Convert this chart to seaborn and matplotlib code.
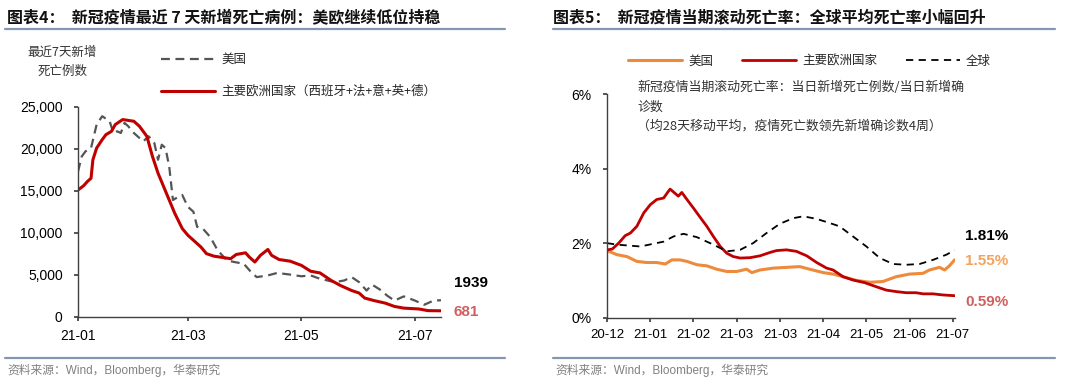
import numpy as np
import pandas as pd
import matplotlib.pyplot as plt
import matplotlib.ticker as mticker
import matplotlib.dates as mdates
from matplotlib.lines import Line2D
import seaborn as sns

# ── Data: left chart (7-day new deaths), day offsets from 2021-01-01 ─────────
eu_days = [0, 3, 5, 7, 8, 10, 13, 15, 18, 20, 24, 27, 30, 33, 37, 40, 43, 46, 49,
           52, 56, 59, 62, 66, 69, 73, 76, 82, 85, 90, 92, 95, 98, 102, 104, 108,
           114, 120, 125, 130, 136, 141, 147, 151, 154, 159, 165, 170, 175, 183,
           188, 195]
eu_deaths = [15100, 15600, 16100, 16500, 18700, 20100, 21100, 21700, 22100, 22900,
             23500, 23400, 23300, 22700, 21500, 19100, 17100, 15500, 13900, 12300,
             10500, 9700, 9100, 8300, 7500, 7200, 7100, 6900, 7400, 7600, 7100, 6500,
             7300, 8000, 7300, 6800, 6600, 6100, 5400, 5200, 4300, 3700, 3100, 2800,
             2200, 1900, 1600, 1200, 1000, 900, 700, 681]
us_days = [0, 2, 4, 7, 10, 13, 17, 19, 21, 23, 25, 27, 30, 35, 38, 41, 43, 45, 47,
           49, 51, 54, 56, 59, 62, 64, 67, 71, 75, 80, 84, 89, 93, 96, 102, 107, 114,
           120, 125, 130, 138, 143, 147, 151, 155, 158, 163, 166, 170, 175, 181,
           186, 191, 195]
us_deaths = [17300, 19100, 19700, 20100, 22900, 23900, 23300, 21900, 22100, 21900,
             23100, 22700, 21900, 20900, 21500, 20700, 18700, 20500, 20100, 17900,
             13900, 14300, 14500, 13100, 12500, 10700, 10500, 9500, 7900, 6700, 6500,
             6300, 5300, 4700, 4900, 5200, 5000, 4800, 4900, 4500, 4100, 4300, 4700,
             4100, 3100, 3800, 3100, 2500, 1900, 2400, 1900, 1400, 1900, 1939]

# ── Data: right chart (rolling fatality rate, %), x in tick-interval units ────
rate_ticks = ["20-12", "21-01", "21-02", "21-03", "21-03", "21-04", "21-05", "21-06", "21-07"]
eu_t = [0, 0.12, 0.27, 0.42, 0.54, 0.69, 0.85, 1.0, 1.15, 1.31, 1.42, 1.46, 1.58,
        1.65, 1.73, 1.85, 2.0, 2.15, 2.31, 2.46, 2.62, 2.77, 2.92, 3.08, 3.31, 3.54,
        3.77, 3.92, 4.15, 4.38, 4.62, 4.85, 5.08, 5.23, 5.46, 5.69, 5.96, 6.23, 6.46,
        6.69, 6.92, 7.15, 7.31, 7.54, 7.77, 8.04]
eu_rate = [1.82, 1.84, 2.0, 2.2, 2.27, 2.45, 2.81, 3.03, 3.17, 3.21, 3.39, 3.45, 3.33,
           3.26, 3.36, 3.17, 2.94, 2.70, 2.45, 2.18, 1.91, 1.73, 1.64, 1.60, 1.61, 1.66,
           1.75, 1.80, 1.82, 1.78, 1.66, 1.48, 1.33, 1.28, 1.10, 1.01, 0.94, 0.83, 0.74,
           0.70, 0.67, 0.67, 0.64, 0.64, 0.61, 0.59]
us_t = [0, 0.23, 0.46, 0.69, 0.92, 1.15, 1.35, 1.5, 1.69, 1.85, 2.08, 2.31, 2.54,
        2.77, 3.0, 3.23, 3.35, 3.54, 3.85, 4.15, 4.46, 4.69, 5.0, 5.23, 5.46, 5.77,
        6.08, 6.38, 6.69, 7.0, 7.31, 7.46, 7.69, 7.81, 7.92, 8.04]
us_rate = [1.80, 1.69, 1.64, 1.51, 1.48, 1.48, 1.44, 1.55, 1.55, 1.51, 1.42, 1.39,
           1.30, 1.24, 1.24, 1.30, 1.21, 1.28, 1.33, 1.35, 1.37, 1.30, 1.21, 1.17,
           1.10, 1.00, 0.95, 0.97, 1.10, 1.17, 1.19, 1.28, 1.35, 1.28, 1.39, 1.55]
gl_t = [0, 0.23, 0.77, 1.31, 1.54, 1.77, 2.08, 2.46, 2.77, 3.08, 3.38, 3.69, 4.0,
        4.31, 4.54, 4.85, 5.15, 5.38, 5.69, 6.0, 6.31, 6.62, 6.92, 7.23, 7.54, 7.85,
        8.04]
gl_rate = [2.0, 1.96, 1.91, 2.04, 2.18, 2.25, 2.16, 1.96, 1.78, 1.82, 2.0, 2.27, 2.52,
           2.67, 2.72, 2.65, 2.54, 2.45, 2.18, 1.91, 1.60, 1.44, 1.42, 1.44, 1.55, 1.69,
           1.81]

# ── Style ─────────────────────────────────────────────────────────────────────
RED    = "#C00000"
ORANGE = "#EE8A3C"
RULE   = "#8497B0"
TXT    = "#333333"

sns.set_theme(style="white")
plt.rcParams["font.family"] = ["Liberation Sans", "Noto Sans CJK SC", "DejaVu Sans"]
plt.rcParams.update({
    "axes.spines.top": False,
    "axes.spines.right": False,
    "axes.edgecolor": "#404040",
    "axes.linewidth": 1.0,
    "xtick.bottom": True,
    "ytick.left": True,
    "xtick.major.size": 3,
    "ytick.major.size": 3,
    "xtick.color": "#404040",
    "ytick.color": "#404040",
    "xtick.labelcolor": "black",
    "ytick.labelcolor": "black",
})
CJK = ["Noto Sans CJK SC", "DejaVu Sans"]

W, H = 1080, 382
fig = plt.figure(figsize=(W / 100, H / 100), dpi=100)


def px_axes(x0, y_top, x1, y_bot):
    return fig.add_axes([x0 / W, 1 - y_bot / H, (x1 - x0) / W, (y_bot - y_top) / H])


def rule(x0, x1, y):
    fig.add_artist(Line2D([x0 / W, x1 / W], [1 - y / H, 1 - y / H],
                          color=RULE, lw=1.6, transform=fig.transFigure))


# Titles, rules and footers
fig.text(7 / W, 1 - 17 / H, "图表4：  新冠疫情最近 7 天新增死亡病例：美欧继续低位持稳",
         fontsize=11.5, fontweight="bold", family=CJK, va="center", color="#111111")
fig.text(553 / W, 1 - 17 / H, "图表5：  新冠疫情当期滚动死亡率：全球平均死亡率小幅回升",
         fontsize=11.5, fontweight="bold", family=CJK, va="center", color="#111111")
rule(5, 505, 29)
rule(553, 1055, 29)
rule(5, 505, 358)
rule(553, 1055, 358)
for x in (7, 555):
    fig.text(x / W, 1 - 370 / H, "资料来源：Wind，Bloomberg，华泰研究",
             fontsize=8.5, color="#808080", va="center",
             family=["Liberation Sans", "Noto Sans CJK SC"])

# ── Left chart ────────────────────────────────────────────────────────────────
start = pd.Timestamp("2021-01-01")
df_eu = pd.DataFrame({"date": start + pd.to_timedelta(eu_days, unit="D"), "v": eu_deaths})
df_us = pd.DataFrame({"date": start + pd.to_timedelta(us_days, unit="D"), "v": us_deaths})

ax1 = px_axes(78, 107, 441, 316.5)
sns.lineplot(data=df_us, x="date", y="v", ax=ax1, color="#555555", lw=1.6,
             linestyle=(0, (4, 2.5)), label="美国")
sns.lineplot(data=df_eu, x="date", y="v", ax=ax1, color=RED, lw=2.2,
             label="主要欧洲国家（西班牙+法+意+英+德）")
ax1.set_xlim(start, start + pd.Timedelta(days=195))
ax1.set_ylim(0, 25000)
ax1.set_yticks(range(0, 25001, 5000))
ax1.yaxis.set_major_formatter(mticker.FuncFormatter(lambda v, _: f"{v:,.0f}"))
ax1.set_xticks(pd.to_datetime(["2021-01-01", "2021-03-01", "2021-05-01", "2021-07-01"]))
ax1.xaxis.set_major_formatter(mdates.DateFormatter("%y-%m"))
ax1.set_xlabel("")
ax1.set_ylabel("")
ax1.tick_params(axis="y", labelsize=10, pad=8)
ax1.tick_params(axis="x", labelsize=10, pad=6)
ax1.legend(loc="upper left", bbox_to_anchor=(150 / W, 1 - 42 / H),
           bbox_transform=fig.transFigure, frameon=False,
           handlelength=4.3, labelspacing=1.5, handletextpad=0.5,
           prop={"family": CJK, "size": 9})
fig.text(62 / W, 1 - 62 / H, "最近7天新增\n死亡例数", fontsize=9, family=CJK,
         ha="center", va="center", color=TXT, linespacing=1.6)
ax1.text(1.035, 1939 / 25000 + 0.08, "1939", transform=ax1.transAxes,
         fontsize=11, fontweight="bold", color="black", va="center")
ax1.text(1.035, 681 / 25000 - 0.005, "681", transform=ax1.transAxes,
         fontsize=11, fontweight="bold", color="#D06060", va="center")

# ── Right chart ───────────────────────────────────────────────────────────────
df_r_us = pd.DataFrame({"t": us_t, "v": us_rate})
df_r_eu = pd.DataFrame({"t": eu_t, "v": eu_rate})
df_r_gl = pd.DataFrame({"t": gl_t, "v": gl_rate})

ax2 = px_axes(607, 94, 955, 317.7)
sns.lineplot(data=df_r_us, x="t", y="v", ax=ax2, color=ORANGE, lw=2.2, label="美国")
sns.lineplot(data=df_r_eu, x="t", y="v", ax=ax2, color=RED, lw=2.0, label="主要欧洲国家")
sns.lineplot(data=df_r_gl, x="t", y="v", ax=ax2, color="black", lw=1.3,
             linestyle=(0, (4, 3)), label="全球")
ax2.set_xlim(0, 8.05)
ax2.set_ylim(0, 6)
ax2.set_yticks([0, 2, 4, 6])
ax2.yaxis.set_major_formatter(mticker.FuncFormatter(lambda v, _: f"{v:.0f}%"))
ax2.set_xticks(range(len(rate_ticks)))
ax2.set_xticklabels(rate_ticks)
ax2.set_xlabel("")
ax2.set_ylabel("")
ax2.tick_params(axis="y", labelsize=10, pad=8)
ax2.tick_params(axis="x", labelsize=9.5, pad=5)
ax2.legend(loc="center left", bbox_to_anchor=(617 / W, 1 - 61 / H),
           bbox_transform=fig.transFigure, frameon=False, ncol=3,
           handlelength=4.3, handletextpad=0.5, columnspacing=2.3,
           prop={"family": CJK, "size": 9})
fig.text(637 / W, 1 - 81 / H,
         "新冠疫情当期滚动死亡率：当日新增死亡例数/当日新增确\n诊数\n（均28天移动平均，疫情死亡数领先新增确诊数4周）",
         fontsize=9.3, family=CJK, color=TXT, va="top", ha="left", linespacing=1.6)
ax2.text(1.03, 1.81 / 6 + 0.065, "1.81%", transform=ax2.transAxes,
         fontsize=11, fontweight="bold", color="black", va="center")
ax2.text(1.03, 1.55 / 6 - 0.005, "1.55%", transform=ax2.transAxes,
         fontsize=11, fontweight="bold", color="#F2A35E", va="center")
ax2.text(1.03, 0.59 / 6 - 0.03, "0.59%", transform=ax2.transAxes,
         fontsize=11, fontweight="bold", color="#D06060", va="center")

fig.savefig("out.png", dpi=100)
